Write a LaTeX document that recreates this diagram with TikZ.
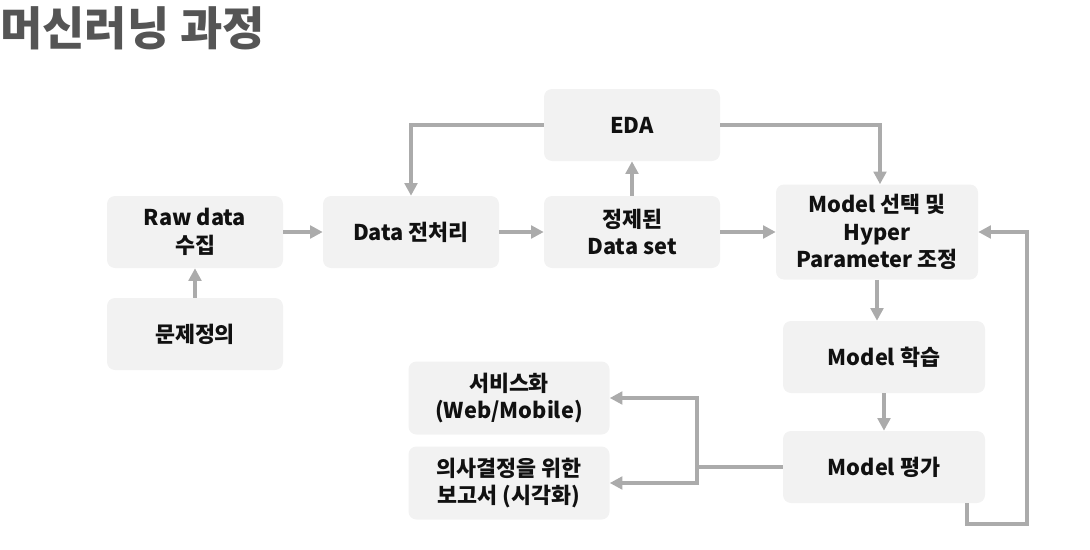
\documentclass[tikz,border=0pt]{standalone}
\usepackage{fontspec}
\setmainfont{Noto Sans CJK KR}
\newfontfamily\titlefont{Noto Sans CJK KR Black}
\usetikzlibrary{arrows.meta,calc}
\definecolor{boxfill}{HTML}{F2F2F2}
\definecolor{arrgray}{HTML}{ABABAB}
\definecolor{titlegray}{HTML}{555555}
\definecolor{txt}{HTML}{111111}
\begin{document}
\begin{tikzpicture}[x=0.75pt,y=-0.75pt,
  box/.style={fill=boxfill,rounded corners=6pt,align=center,text=txt,
    font=\fontsize{16.3pt}{20.5pt}\selectfont\bfseries,
    minimum width=132pt,minimum height=54pt,inner sep=2pt},
  widebox/.style={box,minimum width=151.5pt},
  arr/.style={draw=arrgray,line width=3pt,
    -{Triangle[length=9.5pt,width=9.5pt]}},
]
\useasboundingbox (0,0) rectangle (1090,550);
\node[anchor=base west,inner sep=0,text=titlegray,
  font=\fontsize{34.5pt}{38pt}\selectfont\titlefont] (title) at (0,45) {머신러닝 과정};

\node[box] (raw) at (195,232) {Raw data\\수집};
\node[box] (prob) at (195,334) {문제정의};
\node[box] (prep) at (411,232) {Data 전처리};
\node[box] (clean) at (632,232) {정제된\\Data set};
\node[box] (eda) at (632,125) {EDA};
\node[widebox,minimum height=71.25pt] (msel) at (877,232) {Model 선택 및\\Hyper\\Parameter 조정};
\node[widebox] (learn) at (884,357) {Model 학습};
\node[widebox] (eval) at (884,467) {Model 평가};
\node[box,minimum width=150.75pt,minimum height=54.75pt] (svc) at (509,398) {서비스화\\(Web/Mobile)};
\node[box,minimum width=150.75pt,minimum height=54.75pt] (rep) at (509,483) {의사결정을 위한\\보고서 (시각화)};

\draw[arr] (raw) -- (prep);
\draw[arr] (prep) -- (clean);
\draw[arr] (clean) -- (msel);
\draw[arr] (clean) -- (eda);
\draw[arr] (prob) -- (raw);
\draw[arr] (eda.west) -| (prep.north);
\coordinate (edaR) at (880,161);
\draw[arr] (eda.east) -| (msel.north -| edaR);
\draw[arr] (msel.south) -- (msel.south |- learn.north);
\draw[arr] (learn) -- (eval);
\coordinate (split) at (697,467);
\draw[arr] (eval.west) -- (split) |- (svc.east);
\draw[arr] (split) |- (rep.east);
\coordinate (fbA) at (967,503);
\coordinate (fbB) at (1027,524);
\draw[arr] (fbA) |- (fbB) |- (msel.east);
\end{tikzpicture}
\end{document}
